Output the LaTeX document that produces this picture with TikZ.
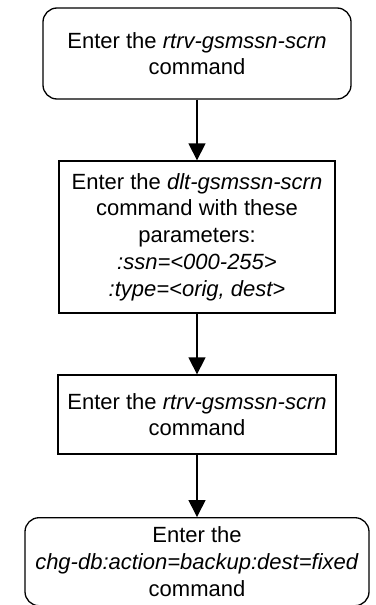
\documentclass[tikz,border=0pt]{standalone}
\usepackage{fontspec}
\setmainfont{Liberation Sans}
\usetikzlibrary{arrows.meta}
\begin{document}
\begin{tikzpicture}[x=1pt,y=-1pt,
  box/.style={draw, line width=1.3pt, align=center, font=\fontsize{22}{26.7}\selectfont, inner sep=0pt},
  rbox/.style={box, rounded corners=14pt},
  arr/.style={line width=1.3pt, -{Triangle[length=17pt,width=17pt]}}]
\useasboundingbox (0,0) rectangle (375,605);
\node[rbox, minimum width=308pt, minimum height=91pt] (b1) at (197,53.5)
  {Enter the \textit{rtrv-gsmssn-scrn}\\command};
\node[box, minimum width=276pt, minimum height=152pt] (b2) at (197,237)
  {Enter the \textit{dlt-gsmssn-scrn}\\command with these\\parameters:\\\textit{:ssn=<000-255>}\\\textit{:type=<orig, dest>}};
\node[box, minimum width=278pt, minimum height=79pt] (b3) at (197,414.5)
  {Enter the \textit{rtrv-gsmssn-scrn}\\command};
\node[rbox, minimum width=344pt, minimum height=88pt] (b4) at (197,561.7)
  {Enter the\\\textit{chg-db:action=backup:dest=fixed}\\command};
\draw[arr] (b1) -- (b2);
\draw[arr] (b2) -- (b3);
\draw[arr] (b3) -- (b4);
\end{tikzpicture}
\end{document}
